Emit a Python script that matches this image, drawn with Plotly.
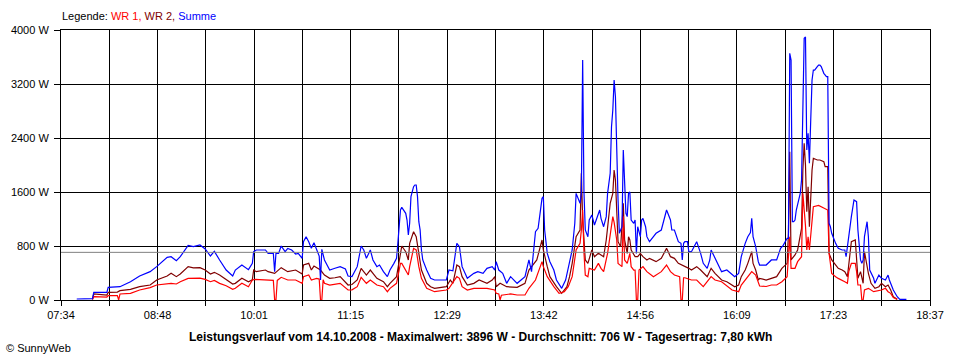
import plotly.graph_objects as go

# ---------------- data (time of day, watts) ----------------
SUMME = [
    ("07:46", 15), ("07:58", 20), ("07:59", 113), ("08:09", 113), ("08:10", 188), ("08:17", 190),
    ("08:19", 197), ("08:27", 271), ("08:34", 356), ("08:42", 420), ("08:47", 494), ("08:55", 632),
    ("08:58", 642), ("09:02", 583), ("09:05", 642), ("09:11", 810), ("09:15", 790), ("09:20", 815),
    ("09:24", 756), ("09:28", 652), ("09:31", 721), ("09:35", 593), ("09:40", 444), ("09:45", 356),
    ("09:47", 444), ("09:52", 518), ("09:57", 450), ("10:00", 543), ("10:01", 716), ("10:03", 741),
    ("10:10", 741), ("10:12", 691), ("10:16", 691), ("10:17", 420), ("10:18", 691), ("10:20", 691),
    ("10:22", 800), ("10:25", 716), ("10:27", 765), ("10:30", 741), ("10:33", 681), ("10:35", 690),
    ("10:38", 617), ("10:39", 864), ("10:41", 938), ("10:43", 864), ("10:45", 765), ("10:47", 849),
    ("10:49", 741), ("10:51", 650), ("10:52", 296), ("10:53", 751), ("10:55", 593), ("10:59", 444),
    ("11:03", 470), ("11:07", 494), ("11:11", 460), ("11:13", 356), ("11:16", 346), ("11:20", 494),
    ("11:23", 800), ("11:25", 741), ("11:27", 617), ("11:30", 741), ("11:32", 593), ("11:35", 494),
    ("11:37", 518), ("11:40", 420), ("11:43", 346), ("11:45", 444), ("11:48", 543), ("11:50", 617),
    ("11:51", 839), ("11:53", 1333), ("11:54", 1373), ("11:57", 1284), ("11:58", 1185), ("11:59", 963),
    ("12:00", 1136), ("12:01", 1531), ("12:03", 1679), ("12:04", 1704), ("12:05", 1704), ("12:06", 1531),
    ("12:07", 1160), ("12:08", 1037), ("12:09", 741), ("12:10", 593), ("12:13", 444), ("12:16", 321),
    ("12:19", 296), ("12:23", 293), ("12:28", 296), ("12:30", 444), ("12:33", 432), ("12:36", 839),
    ("12:38", 790), ("12:40", 494), ("12:44", 321), ("12:49", 395), ("12:52", 420), ("12:56", 395),
    ("12:59", 469), ("13:03", 494), ("13:05", 444), ("13:06", 568), ("13:08", 444), ("13:11", 395),
    ("13:14", 247), ("13:17", 346), ("13:22", 247), ("13:25", 296), ("13:28", 346), ("13:31", 593),
    ("13:33", 420), ("13:36", 1012), ("13:38", 1062), ("13:41", 1506), ("13:42", 1531), ("13:43", 1037),
    ("13:45", 691), ("13:47", 568), ("13:50", 444), ("13:52", 296), ("13:56", 173), ("13:59", 296),
    ("14:01", 494), ("14:04", 741), ("14:06", 1136), ("14:07", 1580), ("14:10", 1432), ("14:11", 1580),
    ("14:12", 3556), ("14:13", 1600), ("14:14", 1037), ("14:16", 938), ("14:17", 1185), ("14:19", 1259),
    ("14:21", 1111), ("14:24", 1284), ("14:25", 1333), ("14:26", 1210), ("14:28", 1086), ("14:30", 1235),
    ("14:31", 1580), ("14:33", 1877), ("14:34", 2568), ("14:35", 2815), ("14:36", 3259), ("14:37", 3012),
    ("14:38", 2173), ("14:39", 1481), ("14:40", 988), ("14:42", 1086), ("14:43", 2222), ("14:44", 1580),
    ("14:45", 1284), ("14:46", 1235), ("14:47", 1580), ("14:48", 1600), ("14:49", 1185), ("14:51", 1136),
    ("14:52", 1185), ("14:53", 691), ("14:54", 1086), ("14:56", 938), ("14:57", 1185), ("14:58", 1210),
    ("15:00", 1086), ("15:01", 938), ("15:03", 864), ("15:06", 938), ("15:08", 988), ("15:12", 1037),
    ("15:15", 1235), ("15:16", 1333), ("15:17", 1284), ("15:19", 1185), ("15:20", 1037), ("15:22", 1037),
    ("15:25", 864), ("15:27", 840), ("15:28", 593), ("15:29", 840), ("15:30", 864), ("15:32", 864),
    ("15:33", 716), ("15:35", 716), ("15:37", 790), ("15:39", 864), ("15:42", 691), ("15:44", 543),
    ("15:47", 469), ("15:49", 593), ("15:50", 741), ("15:53", 617), ("15:56", 494), ("15:58", 420),
    ("16:02", 444), ("16:06", 370), ("16:08", 346), ("16:11", 395), ("16:13", 642), ("16:16", 839),
    ("16:18", 938), ("16:20", 1000), ("16:21", 1210), ("16:22", 938), ("16:24", 790), ("16:26", 568),
    ("16:27", 518), ("16:32", 518), ("16:36", 593), ("16:40", 593), ("16:43", 765), ("16:45", 810),
    ("16:48", 914), ("16:49", 914), ("16:50", 3654), ("16:51", 3556), ("16:52", 1160), ("16:53", 1160),
    ("16:54", 1185), ("16:55", 1333), ("16:58", 1580), ("16:59", 1778), ("17:00", 2914), ("17:01", 3877),
    ("17:02", 3896), ("17:03", 2222), ("17:04", 2469), ("17:05", 2025), ("17:06", 2667), ("17:07", 3259),
    ("17:08", 3407), ("17:09", 3407), ("17:11", 3457), ("17:12", 3481), ("17:13", 3481), ("17:14", 3457),
    ("17:16", 3358), ("17:18", 3309), ("17:19", 3309), ("17:20", 1136), ("17:21", 1086), ("17:22", 988),
    ("17:25", 839), ("17:27", 765), ("17:30", 741), ("17:32", 741), ("17:33", 642), ("17:34", 765),
    ("17:35", 938), ("17:37", 1235), ("17:39", 1481), ("17:41", 1457), ("17:42", 1037), ("17:44", 593),
    ("17:45", 543), ("17:46", 593), ("17:47", 938), ("17:49", 1160), ("17:50", 938), ("17:51", 444),
    ("17:54", 321), ("17:55", 247), ("17:58", 370), ("18:00", 321), ("18:03", 296), ("18:05", 370),
    ("18:06", 296), ("18:09", 148), ("18:12", 49), ("18:14", 10), ("18:19", 10),
]

WR2 = [
    ("07:58", 8), ("07:59", 89), ("08:09", 74), ("08:10", 113), ("08:17", 118), ("08:19", 138),
    ("08:27", 158), ("08:34", 197), ("08:42", 222), ("08:47", 296), ("08:55", 356), ("08:58", 395),
    ("09:02", 346), ("09:05", 385), ("09:11", 494), ("09:15", 475), ("09:20", 480), ("09:24", 444),
    ("09:28", 385), ("09:31", 410), ("09:35", 370), ("09:40", 306), ("09:45", 237), ("09:47", 247),
    ("09:52", 321), ("09:57", 271), ("10:00", 300), ("10:01", 444), ("10:03", 420), ("10:10", 444),
    ("10:12", 420), ("10:17", 395), ("10:22", 479), ("10:27", 420), ("10:33", 444), ("10:38", 385),
    ("10:39", 518), ("10:43", 543), ("10:45", 444), ("10:47", 503), ("10:52", 444), ("10:55", 370),
    ("10:59", 321), ("11:03", 330), ("11:07", 346), ("11:13", 222), ("11:16", 230), ("11:20", 296),
    ("11:23", 469), ("11:27", 370), ("11:30", 444), ("11:35", 321), ("11:40", 271), ("11:43", 197),
    ("11:45", 247), ("11:50", 346), ("11:53", 741), ("11:54", 800), ("11:57", 716), ("11:58", 667),
    ("11:59", 593), ("12:00", 839), ("12:03", 1012), ("12:05", 938), ("12:07", 667), ("12:09", 444),
    ("12:13", 247), ("12:16", 197), ("12:19", 173), ("12:28", 197), ("12:31", 296), ("12:33", 247),
    ("12:36", 518), ("12:38", 494), ("12:40", 346), ("12:44", 222), ("12:49", 247), ("12:53", 296),
    ("12:59", 247), ("13:03", 296), ("13:05", 346), ("13:06", 197), ("13:09", 247), ("13:14", 197),
    ("13:22", 188), ("13:25", 222), ("13:28", 247), ("13:31", 444), ("13:37", 593), ("13:41", 889),
    ("13:42", 741), ("13:45", 494), ("13:47", 346), ("13:52", 197), ("13:56", 99), ("14:00", 197),
    ("14:02", 346), ("14:04", 543), ("14:07", 938), ("14:10", 1037), ("14:11", 1877), ("14:12", 1200),
    ("14:13", 800), ("14:14", 593), ("14:16", 543), ("14:19", 741), ("14:21", 642), ("14:24", 691),
    ("14:26", 667), ("14:28", 642), ("14:30", 889), ("14:31", 1111), ("14:33", 1432), ("14:35", 1580),
    ("14:36", 1926), ("14:37", 1778), ("14:38", 1383), ("14:39", 864), ("14:41", 790), ("14:43", 1432),
    ("14:44", 889), ("14:46", 691), ("14:47", 938), ("14:48", 889), ("14:49", 741), ("14:52", 642),
    ("14:54", 642), ("14:56", 691), ("14:58", 642), ("15:01", 593), ("15:03", 617), ("15:08", 568),
    ("15:12", 617), ("15:16", 765), ("15:19", 642), ("15:22", 617), ("15:25", 543), ("15:28", 518),
    ("15:33", 469), ("15:35", 444), ("15:39", 494), ("15:42", 444), ("15:47", 346), ("15:50", 469),
    ("15:53", 395), ("15:58", 296), ("16:02", 271), ("16:08", 197), ("16:11", 222), ("16:13", 346),
    ("16:16", 444), ("16:18", 543), ("16:21", 716), ("16:22", 543), ("16:24", 444), ("16:26", 296),
    ("16:27", 321), ("16:32", 296), ("16:36", 321), ("16:40", 346), ("16:44", 469), ("16:48", 543),
    ("16:49", 988), ("16:50", 2198), ("16:51", 593), ("16:54", 667), ("16:56", 741), ("16:59", 1062),
    ("17:00", 1926), ("17:01", 2321), ("17:02", 2000), ("17:03", 1309), ("17:04", 1679), ("17:05", 1086),
    ("17:07", 1926), ("17:08", 2099), ("17:11", 2074), ("17:13", 2074), ("17:16", 2050), ("17:17", 1975),
    ("17:19", 1975), ("17:20", 691), ("17:22", 593), ("17:25", 518), ("17:27", 469), ("17:30", 444),
    ("17:32", 420), ("17:34", 346), ("17:35", 543), ("17:37", 864), ("17:40", 889), ("17:41", 543),
    ("17:42", 321), ("17:44", 420), ("17:46", 247), ("17:47", 716), ("17:50", 395), ("17:52", 247),
    ("17:55", 173), ("17:58", 197), ("18:00", 247), ("18:03", 197), ("18:05", 222), ("18:07", 148),
    ("18:09", 49), ("18:12", 10),
]

WR1 = [
    ("07:58", 8), ("07:59", 49), ("08:09", 44), ("08:10", 64), ("08:17", 64), ("08:18", 0),
    ("08:19", 89), ("08:27", 99), ("08:34", 148), ("08:42", 183), ("08:47", 222), ("08:55", 237),
    ("08:58", 247), ("09:02", 237), ("09:05", 271), ("09:11", 321), ("09:20", 324), ("09:24", 306),
    ("09:28", 271), ("09:31", 290), ("09:35", 247), ("09:40", 212), ("09:45", 158), ("09:47", 173),
    ("09:52", 247), ("09:57", 197), ("10:00", 296), ("10:02", 306), ("10:10", 296), ("10:16", 290),
    ("10:17", 0), ("10:18", 0), ("10:19", 290), ("10:22", 336), ("10:27", 296), ("10:33", 296),
    ("10:38", 247), ("10:39", 346), ("10:43", 370), ("10:45", 296), ("10:49", 321), ("10:51", 310),
    ("10:52", 0), ("10:53", 0), ("10:54", 300), ("10:55", 247), ("10:59", 222), ("11:03", 230),
    ("11:07", 247), ("11:13", 148), ("11:16", 150), ("11:20", 197), ("11:23", 336), ("11:27", 247),
    ("11:30", 296), ("11:35", 222), ("11:40", 197), ("11:43", 123), ("11:45", 173), ("11:50", 247),
    ("11:53", 543), ("11:54", 543), ("11:59", 370), ("12:00", 494), ("12:03", 765), ("12:05", 741),
    ("12:07", 494), ("12:09", 321), ("12:13", 173), ("12:16", 148), ("12:19", 123), ("12:28", 148),
    ("12:30", 173), ("12:36", 346), ("12:38", 321), ("12:40", 197), ("12:44", 148), ("12:49", 173),
    ("12:59", 173), ("13:05", 148), ("13:06", 99), ("13:08", 90), ("13:09", 0), ("13:10", 70),
    ("13:11", 74), ("13:17", 90), ("13:22", 74), ("13:28", 74), ("13:31", 173), ("13:36", 296),
    ("13:41", 568), ("13:42", 494), ("13:45", 346), ("13:50", 197), ("13:54", 99), ("13:58", 123),
    ("14:01", 197), ("14:04", 346), ("14:07", 741), ("14:10", 840), ("14:11", 1037), ("14:12", 1333),
    ("14:13", 700), ("14:14", 370), ("14:16", 346), ("14:17", 469), ("14:21", 444), ("14:24", 543),
    ("14:26", 469), ("14:28", 420), ("14:31", 691), ("14:33", 938), ("14:35", 1235), ("14:36", 1150),
    ("14:38", 889), ("14:39", 543), ("14:42", 494), ("14:43", 1235), ("14:44", 593), ("14:46", 543),
    ("14:48", 691), ("14:49", 494), ("14:51", 444), ("14:52", 444), ("14:53", 0), ("14:54", 0),
    ("14:55", 444), ("14:58", 494), ("15:01", 420), ("15:06", 346), ("15:12", 420), ("15:16", 518),
    ("15:19", 420), ("15:22", 370), ("15:26", 346), ("15:27", 0), ("15:28", 0), ("15:29", 330),
    ("15:30", 330), ("15:35", 296), ("15:39", 296), ("15:44", 197), ("15:50", 346), ("15:53", 296),
    ("15:58", 271), ("16:06", 148), ("16:11", 123), ("16:13", 222), ("16:18", 346), ("16:21", 420),
    ("16:24", 370), ("16:26", 271), ("16:27", 207), ("16:32", 200), ("16:36", 222), ("16:40", 222),
    ("16:44", 271), ("16:48", 346), ("16:49", 593), ("16:50", 938), ("16:51", 469), ("16:54", 469),
    ("16:56", 568), ("16:59", 642), ("17:00", 1580), ("17:01", 1383), ("17:02", 1100), ("17:03", 741),
    ("17:04", 938), ("17:05", 741), ("17:07", 1235), ("17:08", 1383), ("17:12", 1400), ("17:17", 1358),
    ("17:19", 1333), ("17:20", 691), ("17:21", 543), ("17:22", 395), ("17:25", 346), ("17:27", 320),
    ("17:32", 271), ("17:34", 247), ("17:35", 420), ("17:37", 543), ("17:40", 543), ("17:41", 420),
    ("17:42", 222), ("17:44", 222), ("17:45", 0), ("17:46", 0), ("17:47", 150), ("17:50", 173),
    ("17:54", 123), ("18:00", 148), ("18:03", 173), ("18:05", 123), ("18:07", 99), ("18:09", 35),
    ("18:12", 10),
]

AVERAGE_W = 706
X_LABELS = ["07:34", "08:48", "10:01", "11:15", "12:29", "13:42", "14:56", "16:09", "17:23", "18:37"]
Y_TICKS = [0, 800, 1600, 2400, 3200, 4000]
TITLE = ("Leistungsverlauf vom 14.10.2008 - Maximalwert: 3896 W - "
         "Durchschnitt: 706 W - Tagesertrag: 7,80 kWh")


def to_min(s):
    h, m = s.split(":")
    return int(h) * 60 + int(m)


def split(series):
    return [to_min(t) for t, _ in series], [v for _, v in series]


FONT = "Liberation Sans, Arial, sans-serif"

fig = go.Figure()
for name, data, color in [("WR 2", WR2, "#800000"), ("WR 1", WR1, "#FF0000"), ("Summe", SUMME, "#0000FF")]:
    xs, ys = split(data)
    fig.add_trace(go.Scatter(x=xs, y=ys, mode="lines", name=name,
                             line=dict(color=color, width=1.2), hoverinfo="skip"))

x0, x1 = to_min(X_LABELS[0]), to_min(X_LABELS[-1])
n_grid = (len(X_LABELS) - 1) * 2
step = (x1 - x0) / n_grid
tickvals = [x0 + i * step for i in range(n_grid + 1)]
ticktext = [X_LABELS[i // 2] if i % 2 == 0 else "" for i in range(n_grid + 1)]

fig.add_shape(type="line", xref="x domain", yref="y", x0=0, x1=1,
              y0=AVERAGE_W, y1=AVERAGE_W, line=dict(color="#808080", width=1), layer="above")

fig.update_layout(
    width=960, height=360,
    margin=dict(l=61, r=30, t=30, b=60, autoexpand=False),
    paper_bgcolor="white", plot_bgcolor="white",
    showlegend=False,
    font=dict(family=FONT, size=11, color="black"),
    xaxis=dict(range=[x0, x1], tickvals=tickvals, ticktext=ticktext,
               showgrid=True, gridcolor="black", gridwidth=1,
               showline=True, linecolor="black", linewidth=1, mirror=True,
               ticks="outside", ticklen=5, tickcolor="black", zeroline=False,
               tickfont=dict(family=FONT, size=11, color="black")),
    yaxis=dict(range=[0, 4000], tickvals=Y_TICKS, ticktext=[f"{v} W" for v in Y_TICKS],
               showgrid=True, gridcolor="black", gridwidth=1,
               showline=True, linecolor="black", linewidth=1, mirror=True,
               ticks="outside", ticklen=6, tickcolor="black", zeroline=False,
               ticklabelstandoff=3,
               tickfont=dict(family=FONT, size=11, color="black")),
)

pw, ph = 869.0, 270.0
def px(x):
    return (x - 61) / pw
def py(y):
    return (300 - y) / ph

fig.add_annotation(xref="paper", yref="paper", x=px(60), y=py(16), xanchor="left", yanchor="middle",
                   showarrow=False, font=dict(family=FONT, size=11, color="black"),
                   text=("Legende: <span style='color:#FF0000'>WR 1, </span>"
                         "<span style='color:#800000'>WR 2, </span>"
                         "<span style='color:#0000FF'>Summe</span>"))
fig.add_annotation(xref="paper", yref="paper", x=px(480), y=py(337), xanchor="center", yanchor="middle",
                   showarrow=False, font=dict(family=FONT, size=12, color="black"),
                   text="<b>" + TITLE + "</b>")
fig.add_annotation(xref="paper", yref="paper", x=px(4), y=py(348), xanchor="left", yanchor="middle",
                   showarrow=False, font=dict(family=FONT, size=11, color="black"),
                   text="© SunnyWeb")

# remove the default 8px page margin so the 960x360 figure fills the window exactly
fig.write_html("out.html",
               config={"displayModeBar": False},
               post_script="document.body.style.margin='0';document.body.style.overflow='hidden';")
